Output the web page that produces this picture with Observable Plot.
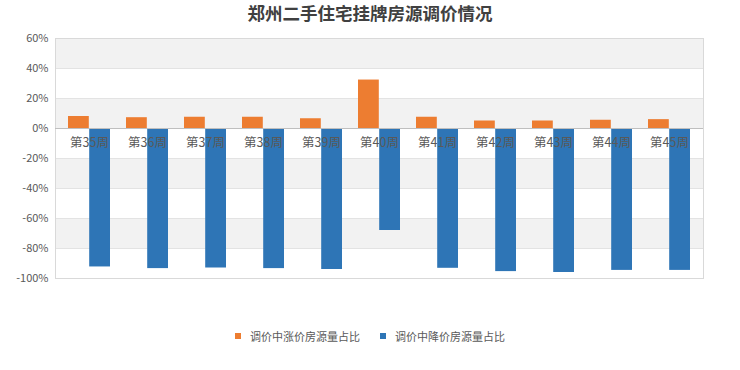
<!DOCTYPE html>
<html>
<head>
<meta charset="utf-8">
<script src="https://cdn.jsdelivr.net/npm/d3@7"></script>
<script src="https://cdn.jsdelivr.net/npm/@observablehq/plot@0.6"></script>
<style>
  html, body { margin: 0; padding: 0; background: #fff; }
  #wrap { position: relative; width: 740px; height: 370px; font-family: "Noto Sans CJK SC", "Noto Sans", sans-serif; }
  #title { position: absolute; left: 0; top: 1px; width: 740px; text-align: center; font-size: 17.5px; font-weight: bold; color: #404040; line-height: 24px; }
  #legend { position: absolute; left: 0; top: 325px; width: 740px; text-align: center; font-size: 11px; color: #595959; line-height: 18px; }
  .item { display: inline-flex; align-items: center; margin: 0 10px; }
  .sw { display: inline-block; width: 6px; height: 6px; margin-right: 9px; }
  svg { position: absolute; left: 0; top: 0; }
</style>
</head>
<body>
<div id="wrap">
  <div id="chart"></div>
  <div id="title"></div>
  <div id="legend"></div>
</div>
<script>
const title = "郑州二手住宅挂牌房源调价情况";
const weeks = ["第35周","第36周","第37周","第38周","第39周","第40周","第41周","第42周","第43周","第44周","第45周"];
const seriesNames = ["调价中涨价房源量占比", "调价中降价房源量占比"];
const seriesColors = ["#ED7D31", "#2E75B6"];
const rise = [0.080, 0.072, 0.075, 0.075, 0.065, 0.323, 0.075, 0.050, 0.050, 0.055, 0.059];
const fall = [-0.923, -0.934, -0.930, -0.934, -0.940, -0.680, -0.932, -0.954, -0.960, -0.946, -0.946];
const yTicks = [0.6, 0.4, 0.2, 0, -0.2, -0.4, -0.6, -0.8, -1.0];
const bandLo = [0.4, 0.0, -0.4, -0.8];
const bandHi = [0.6, 0.2, -0.2, -0.6];

const riseData = weeks.map((w, i) => ({week: w, v: rise[i]}));
const fallData = weeks.map((w, i) => ({week: w, v: fall[i]}));
const bands = bandLo.map((lo, i) => ({lo, hi: bandHi[i]}));

document.getElementById("title").textContent = title;

const plot = Plot.plot({
  width: 740,
  height: 370,
  marginTop: 38,
  marginBottom: 92,
  marginLeft: 55,
  marginRight: 37,
  style: { fontFamily: "'Noto Sans CJK SC', 'Noto Sans', sans-serif", background: "transparent" },
  x: { domain: weeks, paddingInner: 0.28, paddingOuter: 0.14, axis: null },
  y: { domain: [-1, 0.6], ticks: yTicks, tickFormat: d => Math.round(d * 100) + "%", tickSize: 0, tickPadding: 7, label: null },
  marks: [
    Plot.barY(bands, { y1: "lo", y2: "hi", fill: "#f2f2f2" }),
    Plot.ruleY(yTicks, { stroke: "#e3e3e3", strokeWidth: 1 }),
    Plot.frame({ stroke: "#d9d9d9" }),
    Plot.barY(riseData, { x: "week", y: "v", fill: seriesColors[0], insetRight: 21.2 }),
    Plot.barY(fallData, { x: "week", y: "v", fill: seriesColors[1], insetLeft: 21.2 }),
    Plot.ruleY([0], { stroke: "#bfbfbf", strokeWidth: 1 }),
    Plot.text(weeks, { x: d => d, y: 0, dy: 14, text: d => d, fontSize: 12.5, fill: "#595959" })
  ]
});
plot.querySelectorAll("g[aria-label='y-axis tick label'] text, g[aria-label='y-axis tick label']").forEach(e => e.setAttribute("fill", "#595959"));
plot.querySelectorAll("g[aria-label='y-axis tick label']").forEach(e => e.setAttribute("font-size", "11"));
document.getElementById("chart").appendChild(plot);

const legend = document.getElementById("legend");
seriesNames.forEach((name, i) => {
  const item = document.createElement("span");
  item.className = "item";
  const sw = document.createElement("span");
  sw.className = "sw";
  sw.style.background = seriesColors[i];
  item.appendChild(sw);
  item.appendChild(document.createTextNode(name));
  legend.appendChild(item);
});
</script>
</body>
</html>
